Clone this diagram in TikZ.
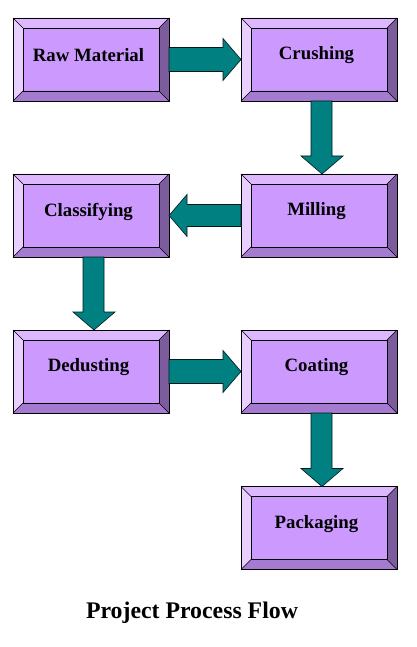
\documentclass[tikz,border=0pt]{standalone}
\usepackage{fontspec}
\setmainfont{Liberation Serif}
\usetikzlibrary{calc}
\definecolor{faceC}{HTML}{CC99FF}
\definecolor{topC}{HTML}{DDB8FF}
\definecolor{leftC}{HTML}{E8CFFF}
\definecolor{botC}{HTML}{A57AD1}
\definecolor{rightC}{HTML}{7D5C9E}
\definecolor{arrC}{HTML}{008080}
\tikzset{
  boxstyle/.style={rectangle, fill=faceC, minimum width=156pt, minimum height=83pt, inner sep=0pt, outer sep=0pt},
  lbl/.style={font=\bfseries\fontsize{18.8}{20}\selectfont, inner sep=0pt},
  arr/.style={fill=arrC, draw=black!80!arrC, line width=0.6pt, line join=miter},
  edge/.style={draw=black, line width=0.8pt}
}
\newcommand\bevbox[4]{%
  \node[boxstyle] (#1) at (#2,#3) {};
  \fill[topC] (#1.north west) -- (#1.north east) -- ($(#1.north east)+(-10,10)$) -- ($(#1.north west)+(10,10)$) -- cycle;
  \fill[leftC] (#1.north west) -- ($(#1.north west)+(10,10)$) -- ($(#1.south west)+(10,-10)$) -- (#1.south west) -- cycle;
  \fill[botC] (#1.south west) -- ($(#1.south west)+(10,-10)$) -- ($(#1.south east)+(-10,-10)$) -- (#1.south east) -- cycle;
  \fill[rightC] (#1.south east) -- ($(#1.south east)+(-10,-10)$) -- ($(#1.north east)+(-10,10)$) -- (#1.north east) -- cycle;
  \draw[edge] (#1.north west) rectangle (#1.south east);
  \draw[edge] ($(#1.north west)+(10,10)$) rectangle ($(#1.south east)+(-10,-10)$);
  \draw[edge, line width=0.4pt] (#1.north west) -- ++(10,10) (#1.north east) -- ++(-10,10)
     (#1.south west) -- ++(10,-10) (#1.south east) -- ++(-10,-10);
  \node[lbl] (#1-t) at ($(#1)+(-2.5,-4)$) {#4};
}
\begin{document}
\begin{tikzpicture}[x=1pt,y=-1pt]
\useasboundingbox (0,0) rectangle (416,647);
\fill[white] (0,0) rectangle (416,647);

\bevbox{raw}{91}{59.5}{Raw Material}
\bevbox{crush}{319}{59.5}{Crushing}
\bevbox{class}{91}{215.5}{Classifying}
\bevbox{mill}{319}{215.5}{Milling}
\bevbox{dedust}{91}{371.5}{Dedusting}
\bevbox{coat}{319}{371.5}{Coating}
\bevbox{pack}{319}{528}{Packaging}

% right arrows
\draw[arr] ($(raw.east)+(0,-12)$) -- ($(crush.west)+(-18,-12)$) -- ($(crush.west)+(-18,-21)$) -- (crush.west)
  -- ($(crush.west)+(-18,21)$) -- ($(crush.west)+(-18,12)$) -- ($(raw.east)+(0,12)$) -- cycle;
\draw[arr] ($(dedust.east)+(0,-12)$) -- ($(coat.west)+(-18,-12)$) -- ($(coat.west)+(-18,-21)$) -- (coat.west)
  -- ($(coat.west)+(-18,21)$) -- ($(coat.west)+(-18,12)$) -- ($(dedust.east)+(0,12)$) -- cycle;
% left arrow
\draw[arr] ($(mill.west)+(0,-11)$) -- ($(class.east)+(18,-11)$) -- ($(class.east)+(18,-21)$) -- (class.east)
  -- ($(class.east)+(18,21)$) -- ($(class.east)+(18,11)$) -- ($(mill.west)+(0,11)$) -- cycle;
% down arrows
\draw[arr] ($(crush.south)+(-8,0)$) -- ($(mill.north)+(-8,-18)$) -- ($(mill.north)+(-18,-18)$) -- ($(mill.north)+(3,0)$)
  -- ($(mill.north)+(24,-18)$) -- ($(mill.north)+(13,-18)$) -- ($(crush.south)+(13,0)$) -- cycle;
\draw[arr] ($(class.south)+(-8,0)$) -- ($(dedust.north)+(-8,-18)$) -- ($(dedust.north)+(-18,-18)$) -- ($(dedust.north)+(3,0)$)
  -- ($(dedust.north)+(24,-18)$) -- ($(dedust.north)+(13,-18)$) -- ($(class.south)+(13,0)$) -- cycle;
\draw[arr] ($(coat.south)+(-8,0)$) -- ($(pack.north)+(-8,-18)$) -- ($(pack.north)+(-18,-18)$) -- ($(pack.north)+(3,0)$)
  -- ($(pack.north)+(24,-18)$) -- ($(pack.north)+(13,-18)$) -- ($(coat.south)+(13,0)$) -- cycle;

\node[font=\bfseries\fontsize{23.8}{26}\selectfont, inner sep=0pt] (title) at (192,612.5) {Project Process Flow};
\end{tikzpicture}
\end{document}
